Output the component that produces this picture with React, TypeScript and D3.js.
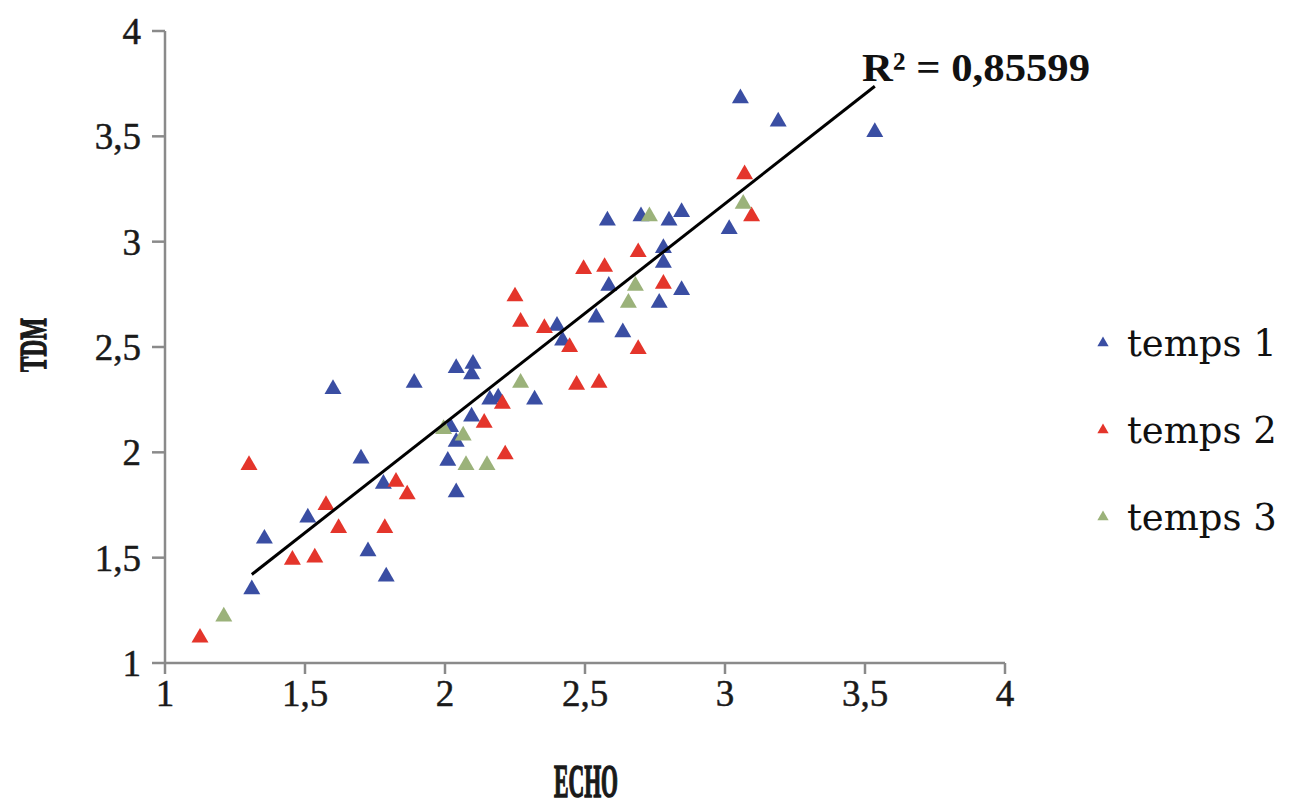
import React from "react";
import * as d3 from "d3";

const tickValues = [1, 1.5, 2, 2.5, 3, 3.5, 4];
const tickLabels = ["1", "1,5", "2", "2,5", "3", "3,5", "4"];

const temps1X = [1.31, 1.355, 1.51, 1.6, 1.7, 1.725, 1.78, 1.79, 1.89, 2.01, 2.02, 2.04, 2.04, 2.04, 2.095, 2.1, 2.095, 2.16, 2.19, 2.32, 2.4, 2.42, 2.54, 2.585, 2.58, 2.635, 2.7, 2.765, 2.78, 2.78, 2.8, 2.845, 2.845, 3.015, 3.055, 3.19, 3.535];
const temps1Y = [1.35, 1.59, 1.69, 2.3, 1.97, 1.53, 1.85, 1.41, 2.33, 1.96, 2.12, 2.05, 1.81, 2.4, 2.37, 2.42, 2.17, 2.25, 2.26, 2.25, 2.6, 2.53, 2.64, 2.79, 3.1, 2.57, 3.12, 2.71, 2.9, 2.97, 3.1, 2.77, 3.14, 3.06, 3.68, 3.57, 3.52];

const temps2X = [1.125, 1.3, 1.455, 1.535, 1.575, 1.62, 1.785, 1.825, 1.865, 2.14, 2.205, 2.215, 2.25, 2.27, 2.355, 2.445, 2.47, 2.55, 2.495, 2.57, 2.69, 2.69, 2.78, 3.07, 3.095];
const temps2Y = [1.12, 1.94, 1.49, 1.5, 1.75, 1.64, 1.64, 1.86, 1.8, 2.14, 2.23, 1.99, 2.74, 2.62, 2.59, 2.5, 2.32, 2.33, 2.87, 2.88, 2.95, 2.49, 2.8, 3.32, 3.12];

const temps3X = [1.21, 1.995, 2.065, 2.075, 2.15, 2.27, 2.655, 2.68, 2.73, 3.065];
const temps3Y = [1.22, 2.11, 2.08, 1.94, 1.94, 2.33, 2.71, 2.79, 3.12, 3.18];

const seriesNames = ["temps 1", "temps 2", "temps 3"];
const seriesColors = ["#3a4ea3", "#e4352b", "#9bb27a"];
const r2Label = "R² = 0,85599";

const W = 1295;
const H = 807;

export default function App() {
  const x = d3.scaleLinear().domain([1, 4]).range([165, 1005]);
  const y = d3.scaleLinear().domain([1, 4]).range([663, 31]);

  const series = [
    { name: seriesNames[0], color: seriesColors[0], xs: temps1X, ys: temps1Y },
    { name: seriesNames[1], color: seriesColors[1], xs: temps2X, ys: temps2Y },
    { name: seriesNames[2], color: seriesColors[2], xs: temps3X, ys: temps3Y },
  ];

  // linear regression on temps 1
  const n = temps1X.length;
  const mx = d3.mean(temps1X)!;
  const my = d3.mean(temps1Y)!;
  let sxy = 0, sxx = 0;
  for (let i = 0; i < n; i++) {
    sxy += (temps1X[i] - mx) * (temps1Y[i] - my);
    sxx += (temps1X[i] - mx) ** 2;
  }
  const slope = sxy / sxx;
  const intercept = my - slope * mx;
  const [xmin, xmax] = d3.extent(temps1X) as [number, number];
  const trendPts: [number, number][] = [
    [xmin, intercept + slope * xmin],
    [xmax, intercept + slope * xmax],
  ];
  const line = d3.line<[number, number]>().x((d) => x(d[0])).y((d) => y(d[1]));

  const tri = d3.symbol().type(d3.symbolTriangle).size(125)()!;
  const triSmall = d3.symbol().type(d3.symbolTriangle).size(55)()!;

  const axisColor = "#8a8a8a";
  const serif = "'Liberation Serif', 'Times New Roman', serif";
  const wideSerif = "'DejaVu Serif', serif";

  return (
    <svg width={W} height={H} style={{ position: "absolute", left: 0, top: 0, background: "#fff" }}>
      {/* axes */}
      <line x1={x(1)} x2={x(4)} y1={y(1)} y2={y(1)} stroke={axisColor} strokeWidth={2.5} />
      <line x1={x(1)} x2={x(1)} y1={y(1)} y2={y(4)} stroke={axisColor} strokeWidth={2.5} />
      {tickValues.map((t, i) => (
        <g key={"yt" + i}>
          <line x1={x(1) - 13} x2={x(1)} y1={y(t)} y2={y(t)} stroke={axisColor} strokeWidth={2.5} />
          <text x={141} y={y(t)} dy="0.35em" textAnchor="end" fontFamily={serif} fontSize={37} fill="#1a1a1a" stroke="#1a1a1a" strokeWidth={0.5}>
            {tickLabels[i]}
          </text>
        </g>
      ))}
      {tickValues.map((t, i) => (
        <g key={"xt" + i}>
          <line x1={x(t)} x2={x(t)} y1={y(1)} y2={y(1) + 11} stroke={axisColor} strokeWidth={2.5} />
          <text x={x(t)} y={706} textAnchor="middle" fontFamily={serif} fontSize={37} fill="#1a1a1a" stroke="#1a1a1a" strokeWidth={0.5}>
            {tickLabels[i]}
          </text>
        </g>
      ))}
      <text
        x={586}
        y={797}
        textAnchor="middle"
        fontFamily={serif}
        fontWeight="bold"
        fontSize={46}
        textLength={64}
        lengthAdjust="spacingAndGlyphs"
        fill="#1a1a1a"
        stroke="#1a1a1a"
        strokeWidth={1.6}
      >
        ECHO
      </text>
      <text
        transform={`translate(46,345) rotate(-90)`}
        textAnchor="middle"
        fontFamily={serif}
        fontWeight="bold"
        fontSize={38}
        textLength={54}
        lengthAdjust="spacingAndGlyphs"
        fill="#1a1a1a"
        stroke="#1a1a1a"
        strokeWidth={1.4}
      >
        TDM
      </text>

      {/* points */}
      {series.map((s) => (
        <g key={s.name}>
          {s.xs.map((xv, i) => (
            <path key={i} d={tri} transform={`translate(${x(xv)},${y(s.ys[i])})`} fill={s.color} />
          ))}
        </g>
      ))}

      {/* trend line */}
      <path d={line(trendPts)!} stroke="#000" strokeWidth={3} fill="none" />
      <text
        x={862}
        y={81}
        fontFamily={serif}
        fontWeight="bold"
        fontSize={41}
        textLength={228}
        lengthAdjust="spacingAndGlyphs"
        fill="#111"
      >
        {r2Label}
      </text>

      {/* legend */}
      {series.map((s, i) => (
        <g key={"lg" + i} transform={`translate(0,${343 + i * 87})`}>
          <path d={triSmall} transform="translate(1103,0)" fill={s.color} />
          <text x={1127} y={0} dy="0.35em" fontFamily={wideSerif} fontSize={37} fill="#111">
            {s.name}
          </text>
        </g>
      ))}
    </svg>
  );
}
